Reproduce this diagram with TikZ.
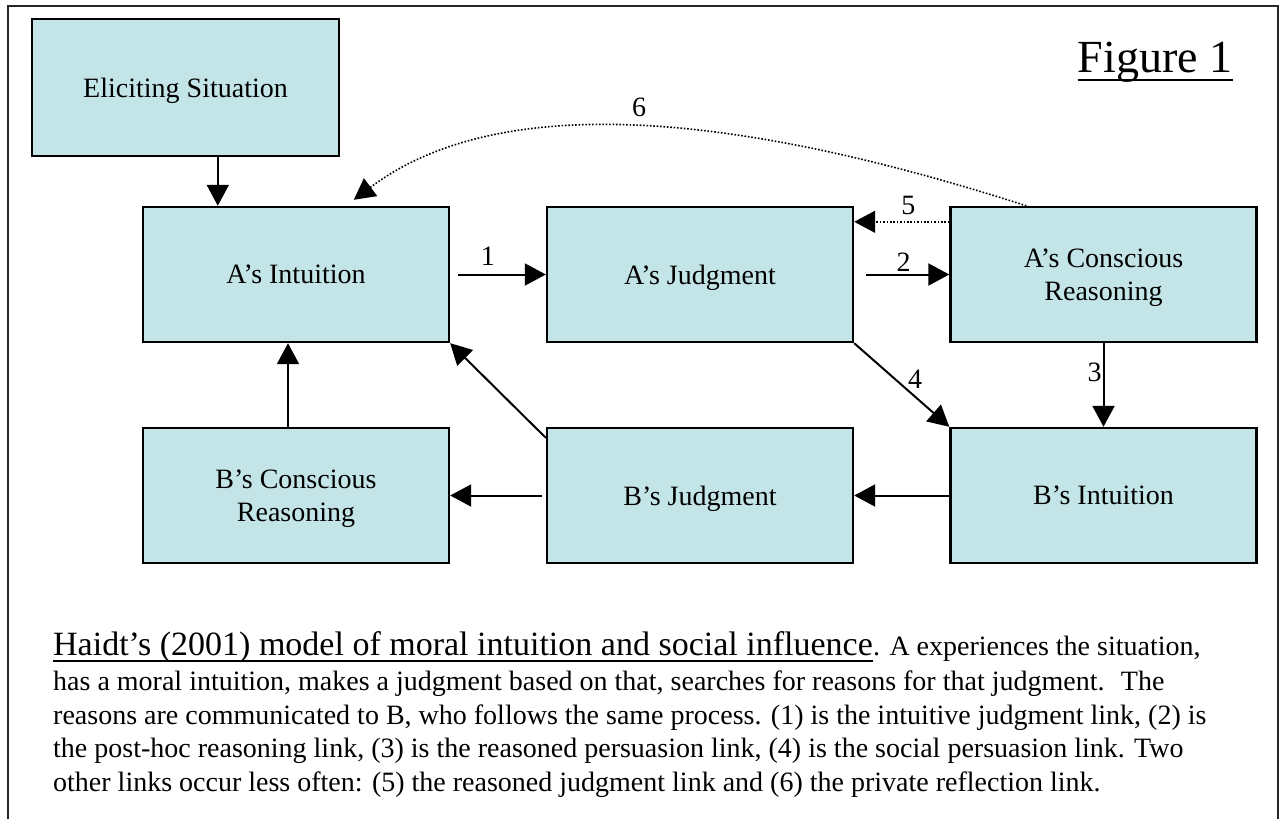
\documentclass[tikz,border=0pt]{standalone}
\usepackage{fontspec}
\setmainfont{Liberation Serif}
\usetikzlibrary{arrows.meta,calc}
\definecolor{boxfill}{RGB}{196,229,232}
\begin{document}
\begin{tikzpicture}[x=1pt,y=-1pt,
  box/.style={draw=black, line width=2.4pt, fill=boxfill, minimum width=306pt, minimum height=135pt, inner sep=0pt, align=center, font=\fontsize{28}{33}\selectfont, text depth=0pt},
  arr/.style={line width=2pt, -{Triangle[length=21pt,width=22pt]}},
  darr/.style={line width=1.6pt, dash pattern=on 1.6pt off 1.8pt, -{Triangle[length=21pt,width=22pt]}},
  lbl/.style={inner sep=0pt, font=\fontsize{28}{33}\selectfont},
  captxt/.style={inner sep=0pt, anchor=base west, font=\fontsize{28}{33}\selectfont},
  uline/.style={line width=2pt}
]
\useasboundingbox (0,0) rectangle (1281,819);
% frame
\draw[line width=2pt, black!85] (8,819) -- (8,6) -- (1278,6) -- (1278,819);

% boxes
\node[box, minimum width=307pt, minimum height=137pt] (elic) at (185.5,87.5) {Eliciting Situation};
\node[box] (ai) at (296,274.5) {A’s Intuition};
\node[box] (aj) at (700,274.5) {A’s Judgment};
\node[box] (acr) at (1103.5,274.5) {A’s Conscious\\Reasoning};
\node[box] (bcr) at (296,495.5) {B’s Conscious\\Reasoning};
\node[box] (bj) at (700,495.5) {B’s Judgment};
\node[box] (bi) at (1103.5,495.5) {B’s Intuition};

% connectors
\coordinate (es) at ($(elic.south west)+(187,0)$);
\draw[arr] (es) -- (es |- ai.north);
\draw[arr] ([xshift=8pt]ai.east) -- node[lbl, pos=0.34, above=8pt] {1} (aj.west);
\draw[arr] ([xshift=12pt]aj.east) -- node[lbl, pos=0.45, above=2pt] {2} (acr.west);
\draw[darr] ([yshift=-16pt]acr.north west) -- node[lbl, pos=0.43, above=6pt] {5} ([yshift=-16pt]aj.north east);
\draw[arr] (acr.south) -- node[lbl, pos=0.35, left=1pt] {3} (bi.north);
\draw[arr] (aj.south east) -- node[lbl, pos=0.64, yshift=17pt] {4} (bi.north west);
\draw[arr] (bi.west) -- (bj.east);
\draw[arr] ([xshift=-4pt]bj.west) -- (bcr.east);
\draw[arr] ([yshift=-11pt]bj.north west) -- (ai.south east);
\draw[arr] ([xshift=-8pt]bcr.north) -- ([xshift=-8pt]ai.south);
\draw[darr] ([xshift=77pt]acr.north west) .. controls (800,133) and (520,75) .. ([xshift=212pt,yshift=6pt]ai.north west) node[lbl, pos=0.54, above=10pt] {6};

% title
\node[inner sep=0pt, anchor=base, font=\fontsize{46}{50}\selectfont] (fig) at (1155,72) {Figure 1};
\draw[uline] ([yshift=-8pt]fig.base west) -- ([yshift=-8pt]fig.base east);

% caption
\node[captxt, font=\fontsize{34}{40}\selectfont] (ttl) at (53,655) {Haidt’s (2001) model of moral intuition and social influence};
\draw[uline] ([yshift=-6pt]ttl.base west) -- ([yshift=-6pt]ttl.base east);
\node[captxt] (c1) at (ttl.base east) {. A experiences the situation,};
\node[captxt] (c2) at (53,690.5) {has a moral intuition, makes a judgment based on that, searches for reasons for that judgment.~ The};
\node[captxt] (c3) at (53,724) {reasons are communicated to B, who follows the same process. (1) is the intuitive judgment link, (2) is};
\node[captxt] (c4) at (53,757.5) {the post-hoc reasoning link, (3) is the reasoned persuasion link, (4) is the social persuasion link. Two};
\node[captxt] (c5) at (53,791.5) {other links occur less often: (5) the reasoned judgment link and (6) the private reflection link.};
\end{tikzpicture}
\end{document}
